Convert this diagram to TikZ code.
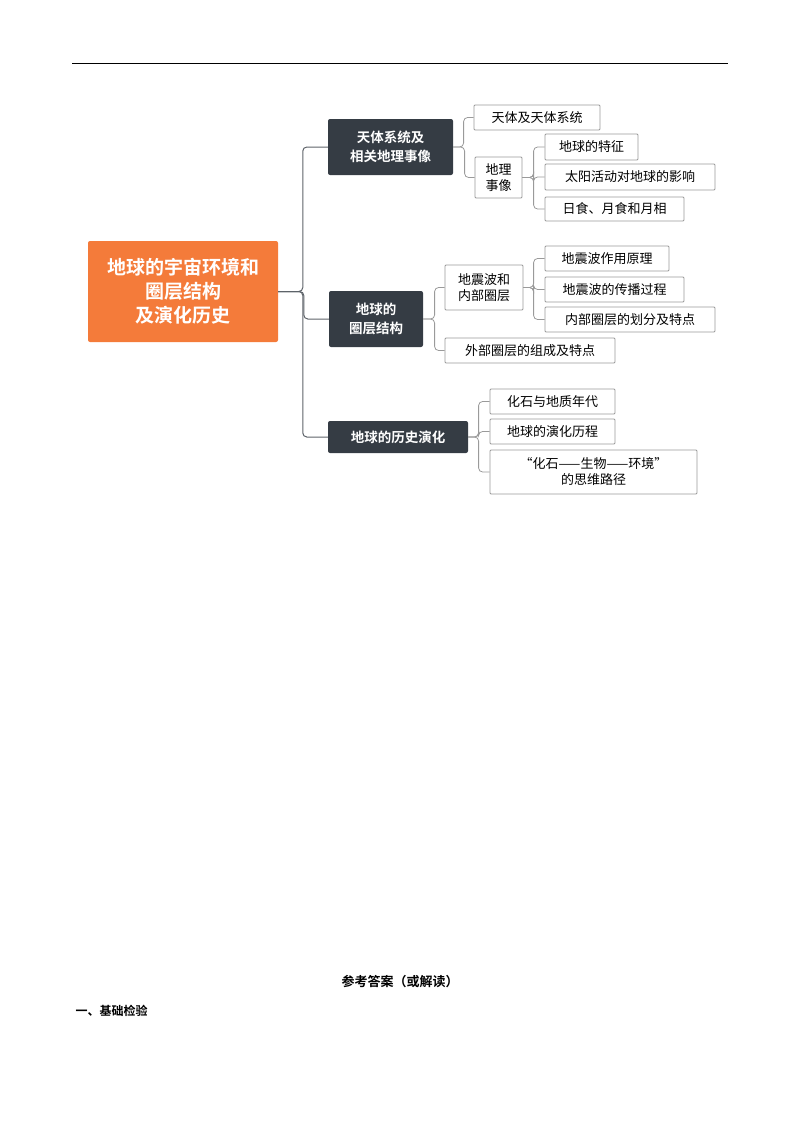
\documentclass[tikz,border=0pt]{standalone}
\usepackage{fontspec}
\setmainfont{Noto Sans CJK SC}
\newfontfamily\cjkb{Noto Sans CJK SC Bold}
\usetikzlibrary{calc}
\definecolor{orng}{HTML}{F47B3A}
\definecolor{dark}{HTML}{353C44}
\definecolor{lgray}{HTML}{9A9A9A}
\tikzset{
  box/.style={draw=lgray,line width=0.8pt,fill=white,inner sep=0pt,align=center,font=\fontsize{13}{16}\selectfont,rounded corners=1pt},
  dbox/.style={fill=dark,text=white,inner sep=0pt,align=center,font=\cjkb\fontsize{13.5}{19}\selectfont,rounded corners=2pt},
  rbox/.style={fill=orng,text=white,inner sep=0pt,align=center,font=\cjkb\fontsize{19}{24}\selectfont,rounded corners=2pt},
  conn/.style={draw=dark!80,line width=1pt,rounded corners=4pt},
  lconn/.style={draw=lgray,line width=0.8pt,rounded corners=4pt}
}
\newcommand{\bx}[6]{\node[#1,minimum width=#4pt,minimum height=#5pt] (#2) at (#3) {#6};}
\begin{document}
\begin{tikzpicture}[x=1pt,y=-1pt]
\useasboundingbox (0,0) rectangle (800,1132);
\draw[line width=0.8pt] (72,63) -- (728,63);
\bx{rbox}{root}{183,291.5}{190}{101}{地球的宇宙环境和\\圈层结构\\及演化历史}
\bx{dbox}{A}{390.5,147}{125}{56}{天体系统及\\相关地理事像}
\bx{dbox}{B}{376,319}{94}{56}{地球的\\圈层结构}
\bx{dbox}{C}{398,437}{140}{32}{地球的历史演化}
\bx{box}{a1}{537,117.5}{126}{25}{天体及天体系统}
\bx{box}{a2}{498.5,177.5}{47}{41}{地理\\事像}
\bx{box}{a21}{591.5,147}{93}{26}{地球的特征}
\bx{box}{a22}{630,177}{170}{26}{太阳活动对地球的影响}
\bx{box}{a23}{614.5,209}{139}{24}{日食、月食和月相}
\bx{box}{b1}{484,287.5}{78}{45}{地震波和\\内部圈层}
\bx{box}{b11}{607,258.5}{124}{25}{地震波作用原理}
\bx{box}{b12}{614.5,289.5}{139}{25}{地震波的传播过程}
\bx{box}{b13}{630,319.5}{170}{25}{内部圈层的划分及特点}
\bx{box}{b2}{530,350.5}{170}{25}{外部圈层的组成及特点}
\bx{box}{c1}{552.5,401.5}{125}{25}{化石与地质年代}
\bx{box}{c2}{552.5,431.5}{125}{25}{地球的演化历程}
\bx{box}{c3}{593.5,472}{207}{44}{“化石——生物——环境”\\的思维路径}
\foreach \c in {A,B,C}{\draw[conn] (root.east) -| ([xshift=-25pt]\c.west) -- (\c.west);}
\foreach \c in {a1,a2}{\draw[lconn] (A.east) -| ([xshift=-10pt]\c.west) -- (\c.west);}
\foreach \c in {a21,a22,a23}{\draw[lconn] (a2.east) -| ([xshift=-11pt]\c.west) -- (\c.west);}
\foreach \c in {b1,b2}{\draw[lconn] (B.east) -| ([xshift=-10pt]\c.west) -- (\c.west);}
\foreach \c in {b11,b12,b13}{\draw[lconn] (b1.east) -| ([xshift=-11pt]\c.west) -- (\c.west);}
\foreach \c in {c1,c2,c3}{\draw[lconn] (C.east) -| ([xshift=-11pt]\c.west) -- (\c.west);}
\node[font=\cjkb\fontsize{13}{16}\selectfont] (ans) at (400,982) {参考答案（或解读）};
\node[font=\cjkb\fontsize{12}{15}\selectfont,anchor=west] (jc) at (72,1011) {一、基础检验};
\end{tikzpicture}
\end{document}
